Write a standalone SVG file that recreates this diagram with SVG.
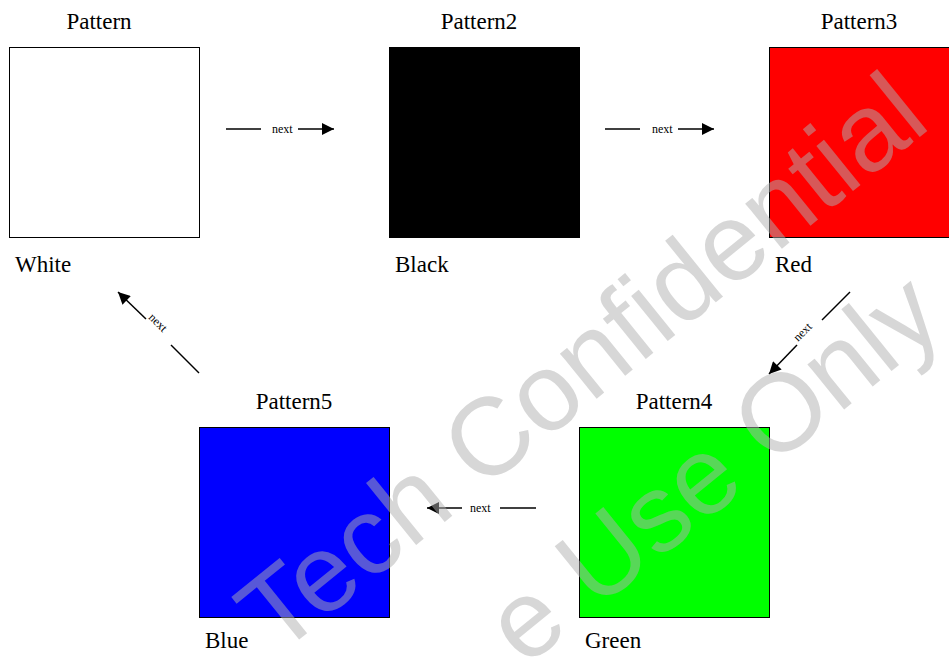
<svg xmlns="http://www.w3.org/2000/svg" width="949" height="659" viewBox="0 0 949 659">
<defs>
<style>
.t{font-family:"Liberation Serif",serif;font-size:23px;fill:#000}
.s{font-family:"Liberation Serif",serif;font-size:12px;fill:#000}
.box{stroke:#000;stroke-width:1}
.c{stroke:#000;stroke-width:1.5;fill:none}
.wm{font-family:"Liberation Sans",Arial,sans-serif;font-size:110px;fill:#b0b0b0;fill-opacity:0.5}
</style>
<marker id="ah" viewBox="0 0 10 10" refX="10" refY="5" markerWidth="18" markerHeight="12" markerUnits="userSpaceOnUse" orient="auto">
<path d="M0,0 L10,5 L0,10 z" fill="#000"/>
</marker>
</defs>
<rect width="949" height="659" fill="#fff"/>
<g id="node1">
<text class="t" x="99" y="29" text-anchor="middle">Pattern</text>
<rect class="box" x="9.5" y="47.5" width="190" height="190" fill="#fff"/>
<text class="t" x="15" y="272">White</text>
</g>
<g id="node2">
<text class="t" x="479" y="29" text-anchor="middle">Pattern2</text>
<rect class="box" x="389.5" y="47.5" width="190" height="190" fill="#000"/>
<text class="t" x="395" y="272">Black</text>
</g>
<g id="node3">
<text class="t" x="859" y="29" text-anchor="middle">Pattern3</text>
<rect class="box" x="769.5" y="47.5" width="190" height="190" fill="#f00"/>
<text class="t" x="775" y="272">Red</text>
</g>
<g id="node4">
<text class="t" x="674" y="409" text-anchor="middle">Pattern4</text>
<rect class="box" x="579.5" y="427.5" width="190" height="190" fill="#0f0"/>
<text class="t" x="585" y="648">Green</text>
</g>
<g id="node5">
<text class="t" x="294" y="409" text-anchor="middle">Pattern5</text>
<rect class="box" x="199.5" y="427.5" width="190" height="190" fill="#00f"/>
<text class="t" x="205" y="648">Blue</text>
</g>
<g id="connectors">
<line class="c" x1="226" y1="129" x2="261" y2="129"/>
<line class="c" x1="298" y1="129" x2="334" y2="129" marker-end="url(#ah)"/>
<text class="s" x="272" y="133">next</text>
<line class="c" x1="605" y1="129" x2="640" y2="129"/>
<line class="c" x1="678" y1="129" x2="714" y2="129" marker-end="url(#ah)"/>
<text class="s" x="652" y="133">next</text>
<line class="c" x1="536" y1="508" x2="500" y2="508"/>
<line class="c" x1="462" y1="508" x2="427" y2="508" marker-end="url(#ah)"/>
<text class="s" x="470" y="512">next</text>
<line class="c" x1="850" y1="292" x2="822" y2="320"/>
<line class="c" x1="797" y1="345" x2="769" y2="374" marker-end="url(#ah)"/>
<text class="s" transform="translate(798,342) rotate(-45)">next</text>
<line class="c" x1="199" y1="373" x2="171" y2="345"/>
<line class="c" x1="146" y1="319" x2="118" y2="292" marker-end="url(#ah)"/>
<text class="s" transform="translate(148,318) rotate(45)">next</text>
</g>
<g id="watermark">
<text class="wm" text-anchor="middle" transform="translate(605,392) rotate(-39)">Tech Confidential</text>
<text class="wm" text-anchor="middle" transform="translate(736,497) rotate(-39)">e Use Only</text>
</g>
</svg>
